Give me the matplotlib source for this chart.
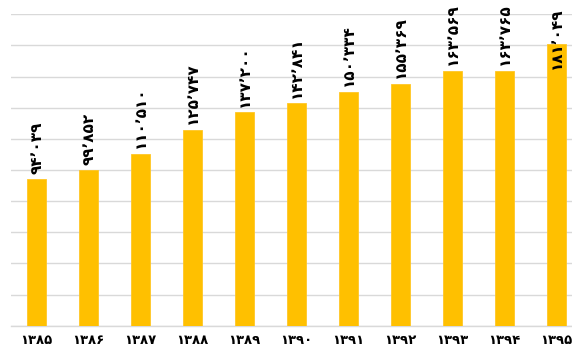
import matplotlib
matplotlib.use("Agg")
import matplotlib.pyplot as plt

# سال‌ها و مقادیر
years = [1385, 1386, 1387, 1388, 1389, 1390, 1391, 1392, 1393, 1394, 1395]
values = [94039, 99852, 110510, 125747, 137200, 142841, 150334, 155369, 163569, 163765, 181049]

FA_DIGITS = str.maketrans("0123456789,", "۰۱۲۳۴۵۶۷۸۹٬")


def to_fa(n, sep=True):
    s = f"{n:,}" if sep else str(n)
    return s.translate(FA_DIGITS)


bar_color = "#FFC000"
grid_color = "#D9D9D9"
ymax = 200000

fig = plt.figure(figsize=(5.72, 3.49), dpi=100, facecolor="white")
# محور کمی از لبه راست تصویر بیرون می‌زند
ax = fig.add_axes([10.7 / 572, (349 - 325.7) / 349, 572 / 572, 311.4 / 349])

x = list(range(len(years)))
ax.bar(x, values, width=0.37, color=bar_color, edgecolor="#FFC726", linewidth=0.6, zorder=3)

ax.set_xlim(-0.5, len(years) - 0.5)
ax.set_ylim(0, ymax)
ax.set_yticks(range(0, ymax + 1, 20000))
ax.yaxis.grid(True, color=grid_color, linewidth=1.0, zorder=0)
ax.set_axisbelow(True)
ax.tick_params(axis="y", left=False, labelleft=False)
ax.tick_params(axis="x", bottom=False, pad=2.5)
ax.set_xticks(x)
ax.set_xticklabels([to_fa(y, sep=False) for y in years], fontsize=9.5, fontweight="bold")

for side in ["left", "right", "top"]:
    ax.spines[side].set_visible(False)
ax.spines["bottom"].set_color(grid_color)
ax.spines["bottom"].set_linewidth(1.0)

# برچسب مقدار بالای هر ستون
for xi, v in zip(x, values):
    if v > 0.88 * ymax:
        ax.annotate(to_fa(v), xy=(xi, ymax), xytext=(0, 5), textcoords="offset points",
                    rotation=90, ha="center", va="top", fontsize=11, fontweight="bold",
                    annotation_clip=False, zorder=4)
    else:
        ax.annotate(to_fa(v), xy=(xi, v), xytext=(0, 4), textcoords="offset points",
                    rotation=90, ha="center", va="bottom", fontsize=11, fontweight="bold",
                    annotation_clip=False, zorder=4)

fig.savefig("out.png", dpi=100, facecolor="white")
